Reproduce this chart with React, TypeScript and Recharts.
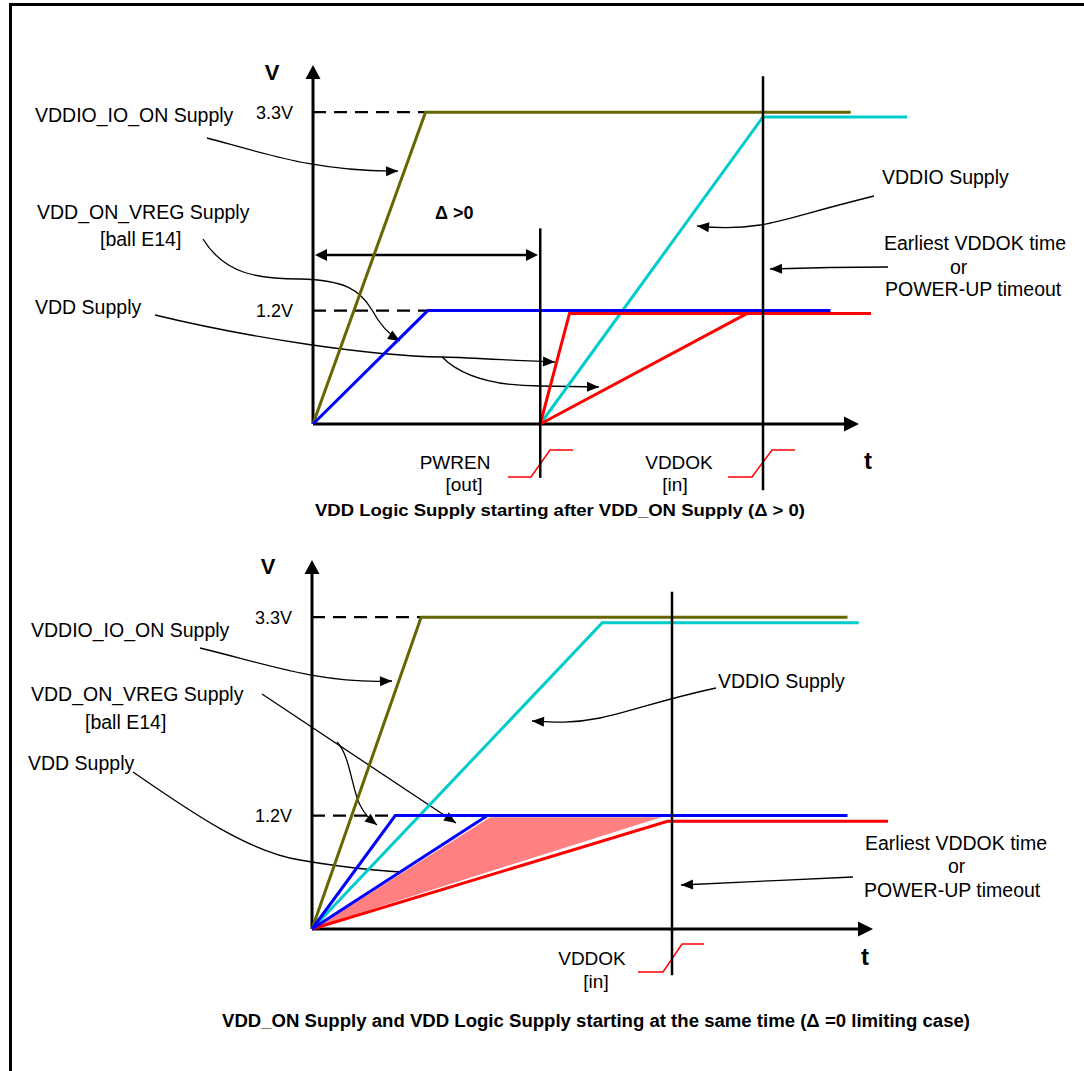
import React from 'react';
import { ComposedChart, Line, Area, XAxis, YAxis, ReferenceLine, Customized } from 'recharts';

// time in arbitrary units, voltage in V
// upper diagram: logic supply starts after VDD_ON (delta > 0)
const TOP_VDDIO_IO_ON = [{ t: 0, v: 0 }, { t: 5.0, v: 3.3 }, { t: 23.9, v: 3.3 }];
const TOP_VDDIO = [{ t: 10.1, v: 0 }, { t: 20, v: 3.25 }, { t: 26.4, v: 3.25 }];
const TOP_VDD_ON_VREG = [{ t: 0, v: 0 }, { t: 5.1, v: 1.2 }, { t: 23.0, v: 1.2 }];
const TOP_VDD_FAST = [{ t: 10.1, v: 0 }, { t: 11.4, v: 1.17 }, { t: 24.8, v: 1.17 }];
const TOP_VDD_SLOW = [{ t: 10.1, v: 0 }, { t: 19.3, v: 1.17 }];
const TOP_PWREN = 10.1;
const TOP_VDDOK = 20;

// lower diagram: both start together (delta = 0)
const BOT_VDDIO_IO_ON = [{ t: 0, v: 0 }, { t: 4.85, v: 3.3 }, { t: 23.8, v: 3.3 }];
const BOT_VDDIO = [{ t: 0, v: 0 }, { t: 12.9, v: 3.24 }, { t: 24.3, v: 3.24 }];
const BOT_VDD_ON_FAST = [{ t: 0, v: 0 }, { t: 3.7, v: 1.2 }, { t: 23.8, v: 1.2 }];
const BOT_VDD_ON_SLOW = [{ t: 0, v: 0 }, { t: 7.8, v: 1.2 }];
const BOT_VDD = [{ t: 0, v: 0 }, { t: 15.8, v: 1.14 }, { t: 25.6, v: 1.14 }];
const BOT_VDD_ZONE = [{ t: 0, v: [0, 0] }, { t: 7.9, v: [0.6, 1.19] }, { t: 15.6, v: [1.18, 1.19] }];
const BOT_VDDOK = 16.0;

const LEVELS = [1.2, 3.3];

const OLIVE = '#666600';
const CYAN = '#00cccc';
const BLUE = '#0000ff';
const RED = '#ff0000';
const PINK = '#ff8080';
const FONT = '"Liberation Sans", Arial, Helvetica, sans-serif';

const W = 1084;
const X_PX = 22.5;
const Y_PX = 94.5;
const T_MAX = 27;
const V_MAX = 4;

type Geo = { top: number; height: number; left: number; zeroY: number };
const TOP_GEO: Geo = { top: 0, height: 530, left: 313, zeroY: 424 };
const BOT_GEO: Geo = { top: 530, height: 541, left: 312, zeroY: 399 };

const marginsFor = (g: Geo) => ({
  left: g.left - 60,
  right: W - g.left - T_MAX * X_PX,
  top: g.zeroY - V_MAX * Y_PX,
  bottom: g.height - g.zeroY,
});

const Txt = ({ x, y, size = 19.5, anchor = 'start', bold = false, len, children }: any) => (
  <text
    x={x}
    y={y}
    dy="0.35em"
    fontSize={size}
    fontWeight={bold ? 'bold' : 'normal'}
    textAnchor={anchor}
    fill="#000"
    fontFamily={FONT}
    textLength={len}
    lengthAdjust={len ? 'spacingAndGlyphs' : undefined}
  >
    {children}
  </text>
);

function Head({ x, y, fx, fy, len = 12, half = 5 }: any) {
  const a = Math.atan2(y - fy, x - fx);
  const bx = x - len * Math.cos(a);
  const by = y - len * Math.sin(a);
  const ox = -Math.sin(a) * half;
  const oy = Math.cos(a) * half;
  return <polygon points={`${x},${y} ${bx + ox},${by + oy} ${bx - ox},${by - oy}`} fill="#000" />;
}

// thin pointer from a label to a curve
const Pointer = ({ d, tip, from }: any) => (
  <g>
    <path d={d} fill="none" stroke="#000" strokeWidth={1.3} />
    <Head x={tip[0]} y={tip[1]} fx={from[0]} fy={from[1]} />
  </g>
);

function Axes({ g, xTip, yTip }: any) {
  const y0 = g.top + g.zeroY;
  const x0 = g.left;
  return (
    <g>
      <line x1={x0} y1={y0} x2={xTip - 10} y2={y0} stroke="#000" strokeWidth={3} />
      <polygon points={`${xTip},${y0} ${xTip - 15},${y0 - 7.5} ${xTip - 15},${y0 + 7.5}`} fill="#000" />
      <line x1={x0} y1={y0} x2={x0} y2={yTip + 10} stroke="#000" strokeWidth={3} />
      <polygon points={`${x0},${yTip} ${x0 - 7.5},${yTip + 14} ${x0 + 7.5},${yTip + 14}`} fill="#000" />
    </g>
  );
}

const Step = ({ pts }: any) => <polyline points={pts} fill="none" stroke={RED} strokeWidth={1.5} />;

function TopDecor() {
  const g = TOP_GEO;
  return (
    <g transform={`translate(0, ${-g.top})`}>
      <Axes g={g} xTip={859} yTip={65} />
      <Txt x={272} y={72} size={22} anchor="middle" bold>V</Txt>
      <Txt x={868} y={461} size={24} anchor="middle" bold>t</Txt>

      <Txt x={35} y={115}>VDDIO_IO_ON Supply</Txt>
      <Txt x={37} y={212}>VDD_ON_VREG Supply</Txt>
      <Txt x={100} y={239}>[ball E14]</Txt>
      <Txt x={35} y={307}>VDD Supply</Txt>
      <Txt x={882} y={177}>VDDIO Supply</Txt>
      <Txt x={884} y={243}>Earliest VDDOK time</Txt>
      <Txt x={950} y={267}>or</Txt>
      <Txt x={885} y={289}>POWER-UP timeout</Txt>

      <Txt x={435} y={213} size={18} bold>Δ &gt;0</Txt>
      <line x1={322} y1={255} x2={530} y2={255} stroke="#000" strokeWidth={2.5} />
      <Head x={315} y={255} fx={330} fy={255} len={12} half={6} />
      <Head x={538} y={255} fx={520} fy={255} len={12} half={6} />

      <Pointer d="M207,138 C270,155 320,172 398,171" tip={[398, 171]} from={[380, 171.5]} />
      <Pointer d="M203,239 C225,275 260,279 300,279 C345,280 360,290 372,310 C380,325 388,334 400,341" tip={[400, 341]} from={[390, 335]} />
      <Pointer d="M155,315 C250,338 370,356 442,357 C480,358 520,361 555,362" tip={[555, 362]} from={[540, 361.5]} />
      <Pointer d="M442,357 C460,375 490,386 540,386 L599,387" tip={[599, 387]} from={[580, 386.7]} />
      <Pointer d="M874,196 C810,212 780,222 760,225 C735,229 715,228 697,226" tip={[697, 226]} from={[712, 227.5]} />
      <Pointer d="M888,267 C840,267 800,268 770,269" tip={[770, 269]} from={[790, 268.5]} />

      <Step pts="508,477 531,477 550,450 573,450" />
      <Step pts="728,477 752,477 772,450 795,450" />
      <Txt x={455} y={462} size={19} anchor="middle">PWREN</Txt>
      <Txt x={464} y={484} size={19} anchor="middle">[out]</Txt>
      <Txt x={679} y={462} size={19} anchor="middle">VDDOK</Txt>
      <Txt x={675} y={484} size={19} anchor="middle">[in]</Txt>

      <Txt x={560} y={510} size={17} anchor="middle" bold len={490}>
        VDD Logic Supply starting after VDD_ON Supply (Δ &gt; 0)
      </Txt>
    </g>
  );
}

function BottomDecor() {
  const g = BOT_GEO;
  return (
    <g transform={`translate(0, ${-g.top})`}>
      <Axes g={g} xTip={873} yTip={560} />
      <Txt x={268} y={566} size={22} anchor="middle" bold>V</Txt>
      <Txt x={865} y={957} size={24} anchor="middle" bold>t</Txt>

      <Txt x={31} y={630}>VDDIO_IO_ON Supply</Txt>
      <Txt x={31} y={694}>VDD_ON_VREG Supply</Txt>
      <Txt x={85} y={722}>[ball E14]</Txt>
      <Txt x={28} y={763}>VDD Supply</Txt>
      <Txt x={718} y={681}>VDDIO Supply</Txt>
      <Txt x={865} y={843}>Earliest VDDOK time</Txt>
      <Txt x={948} y={866}>or</Txt>
      <Txt x={864} y={890}>POWER-UP timeout</Txt>

      <Pointer d="M200,648 C270,665 320,684 392,681" tip={[392, 681]} from={[375, 681.5]} />
      <Pointer d="M262,694 L456,823" tip={[456, 823]} from={[262, 694]} />
      <Pointer d="M337,742 C350,755 352,790 360,805 C365,815 370,820 377,825" tip={[377, 825]} from={[368, 818]} />
      <Pointer d="M133,772 C195,815 250,852 300,860 C340,867 390,873 440,873" tip={[440, 873]} from={[420, 873]} />
      <Pointer d="M716,688 C660,700 630,712 600,718 C570,724 550,722 532,721" tip={[532, 721]} from={[550, 722]} />
      <Pointer d="M853,877 C800,879 730,883 681,885" tip={[681, 885]} from={[700, 884.3]} />

      <Step pts="638,972 663,972 682,944 704,944" />
      <Txt x={592} y={958} size={19} anchor="middle">VDDOK</Txt>
      <Txt x={596} y={981} size={19} anchor="middle">[in]</Txt>

      <Txt x={596} y={1021} size={18} anchor="middle" bold len={748}>
        VDD_ON Supply and VDD Logic Supply starting at the same time (Δ =0 limiting case)
      </Txt>
    </g>
  );
}

const levelAxis = (
  <YAxis
    type="number"
    domain={[0, V_MAX]}
    ticks={LEVELS}
    width={60}
    axisLine={false}
    tickLine={false}
    tickSize={6}
    tickMargin={14}
    tick={{ fontSize: 18, fill: '#000', fontFamily: FONT }}
    tickFormatter={(v: number) => `${v}V`}
  />
);

const timeAxis = <XAxis type="number" dataKey="t" domain={[0, T_MAX]} hide />;

function TopDiagram() {
  const g = TOP_GEO;
  return (
    <ComposedChart width={W} height={g.height} margin={marginsFor(g)}>
      {timeAxis}
      {levelAxis}
      <ReferenceLine segment={[{ x: 0, y: 3.3 }, { x: TOP_VDDIO_IO_ON[1].t, y: 3.3 }]} stroke="#000" strokeWidth={2.2} strokeDasharray="13 8" />
      <ReferenceLine segment={[{ x: 0, y: 1.2 }, { x: TOP_PWREN, y: 1.2 }]} stroke="#000" strokeWidth={2.2} strokeDasharray="13 8" />
      <Line data={TOP_VDDIO_IO_ON} dataKey="v" type="linear" stroke={OLIVE} strokeWidth={3} dot={false} isAnimationActive={false} />
      <Line data={TOP_VDDIO} dataKey="v" type="linear" stroke={CYAN} strokeWidth={3} dot={false} isAnimationActive={false} />
      <Line data={TOP_VDD_ON_VREG} dataKey="v" type="linear" stroke={BLUE} strokeWidth={3} dot={false} isAnimationActive={false} />
      <Line data={TOP_VDD_FAST} dataKey="v" type="linear" stroke={RED} strokeWidth={3} dot={false} isAnimationActive={false} />
      <Line data={TOP_VDD_SLOW} dataKey="v" type="linear" stroke={RED} strokeWidth={3} dot={false} isAnimationActive={false} />
      <ReferenceLine ifOverflow="visible" segment={[{ x: TOP_PWREN, y: 2.07 }, { x: TOP_PWREN, y: -0.57 }]} stroke="#000" strokeWidth={2.5} />
      <ReferenceLine ifOverflow="visible" segment={[{ x: TOP_VDDOK, y: 3.68 }, { x: TOP_VDDOK, y: -0.7 }]} stroke="#000" strokeWidth={2.5} />
      <Customized component={() => <TopDecor />} />
    </ComposedChart>
  );
}

function BottomDiagram() {
  const g = BOT_GEO;
  return (
    <ComposedChart width={W} height={g.height} margin={marginsFor(g)}>
      {timeAxis}
      {levelAxis}
      <Area data={BOT_VDD_ZONE} dataKey="v" type="linear" fill={PINK} fillOpacity={1} stroke="#ffffff" strokeWidth={1.5} isAnimationActive={false} />
      <ReferenceLine segment={[{ x: 0, y: 3.3 }, { x: BOT_VDDIO_IO_ON[1].t, y: 3.3 }]} stroke="#000" strokeWidth={2.2} strokeDasharray="13 8" />
      <ReferenceLine segment={[{ x: 0, y: 1.2 }, { x: BOT_VDD_ON_FAST[1].t, y: 1.2 }]} stroke="#000" strokeWidth={2.2} strokeDasharray="13 8" />
      <Line data={BOT_VDDIO_IO_ON} dataKey="v" type="linear" stroke={OLIVE} strokeWidth={3} dot={false} isAnimationActive={false} />
      <Line data={BOT_VDDIO} dataKey="v" type="linear" stroke={CYAN} strokeWidth={3} dot={false} isAnimationActive={false} />
      <Line data={BOT_VDD} dataKey="v" type="linear" stroke={RED} strokeWidth={3} dot={false} isAnimationActive={false} />
      <Line data={BOT_VDD_ON_FAST} dataKey="v" type="linear" stroke={BLUE} strokeWidth={3} dot={false} isAnimationActive={false} />
      <Line data={BOT_VDD_ON_SLOW} dataKey="v" type="linear" stroke={BLUE} strokeWidth={3} dot={false} isAnimationActive={false} />
      <ReferenceLine ifOverflow="visible" segment={[{ x: BOT_VDDOK, y: 3.57 }, { x: BOT_VDDOK, y: -0.49 }]} stroke="#000" strokeWidth={2.5} />
      <Customized component={() => <BottomDecor />} />
    </ComposedChart>
  );
}

export default function App() {
  return (
    <div style={{ position: 'absolute', left: 0, top: 0, width: W, height: 1071, background: '#fff', overflow: 'hidden' }}>
      <div style={{ position: 'absolute', left: 9, top: 3, width: 1100, height: 1100, borderLeft: '3px solid #000', borderTop: '3px solid #000' }} />
      <div style={{ position: 'absolute', left: 0, top: TOP_GEO.top }}>
        <TopDiagram />
      </div>
      <div style={{ position: 'absolute', left: 0, top: BOT_GEO.top }}>
        <BottomDiagram />
      </div>
    </div>
  );
}
